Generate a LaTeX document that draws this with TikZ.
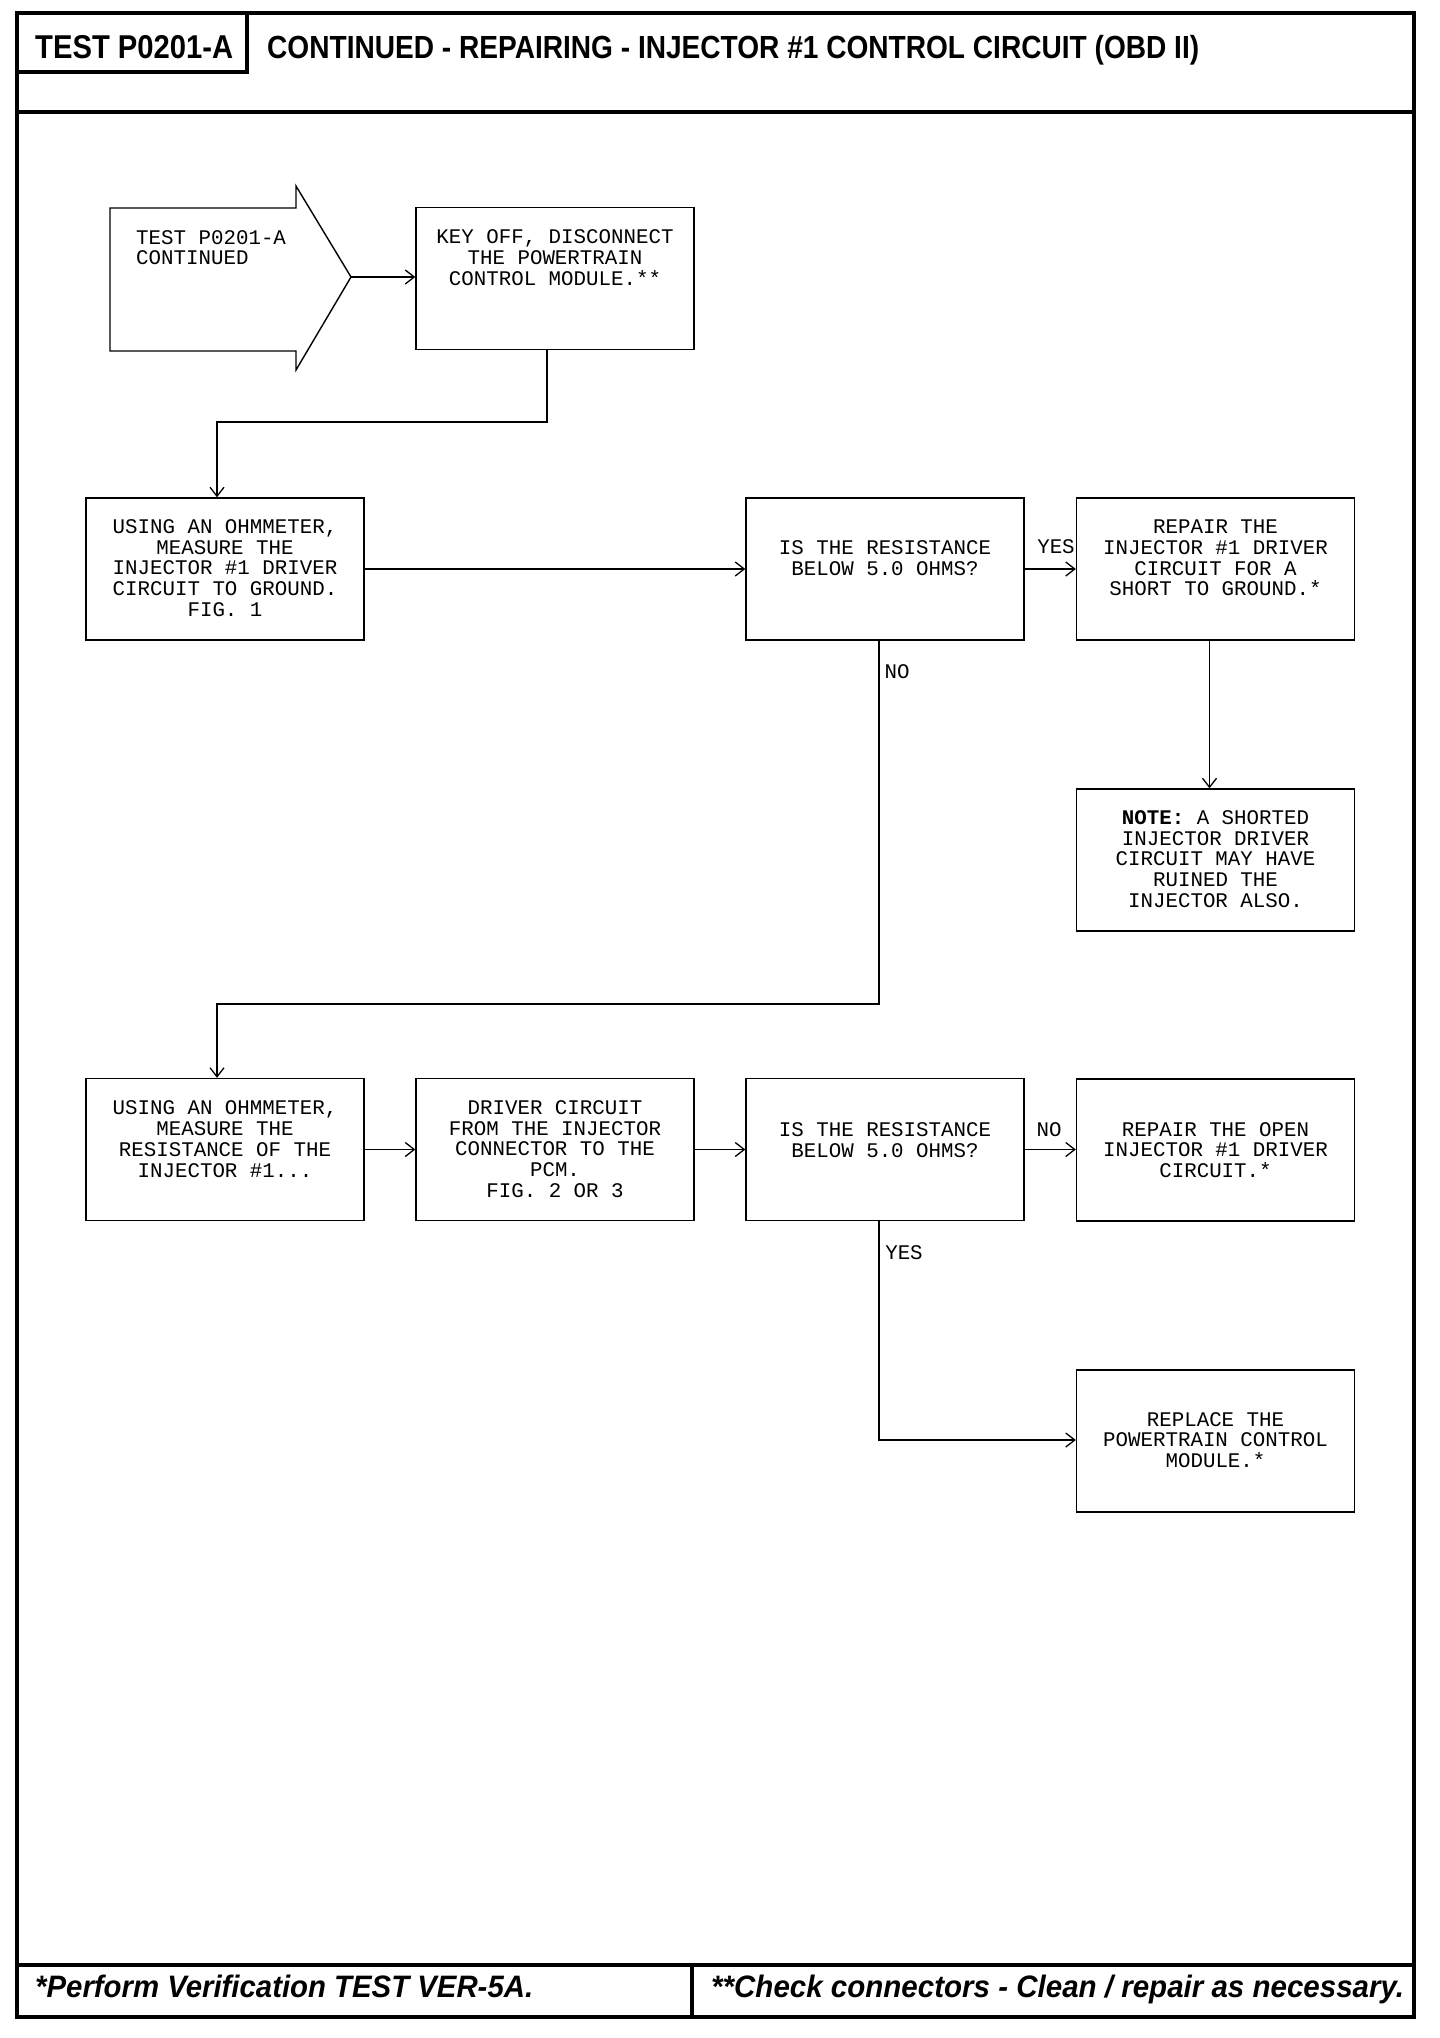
\documentclass[tikz,border=0pt]{standalone}
\usepackage{fontspec}
\usepackage{graphicx}
\setmainfont{Liberation Serif}
\newfontfamily\monofnt{Liberation Mono}
\newfontfamily\headfnt{Liberation Sans}
\usetikzlibrary{arrows.meta,calc}
\tikzset{
  frameline/.style={line width=3.2pt, line cap=rect},
  boxnode/.style={draw, line width=1.4pt, minimum width=278pt, minimum height=142pt, inner sep=0pt},
  txt/.style={font=\monofnt\fontsize{20.8}{20.8}\selectfont, align=center, inner sep=0pt},
  lbl/.style={font=\monofnt\fontsize{20.8}{20.8}\selectfont, inner sep=0pt},
  conn/.style={line width=1.4pt},
  arr/.style={line width=1.4pt, -{Straight Barb[length=9pt,width=14pt,line width=1.3pt]}},
  startarrow/.style={draw, line width=1.4pt, line join=miter}
}
\begin{document}
\begin{tikzpicture}[x=1pt,y=-1pt]
\useasboundingbox (0,0) rectangle (1440,2038);
\fill[white] (0,0) rectangle (1440,2038);
% frame
\draw[frameline] (17,13) rectangle (1414,2017);
\draw[frameline] (17,112) -- (1414,112);
\draw[frameline] (247,13) -- (247,72) -- (17,72);
\draw[frameline] (17,1965) -- (1414,1965);
\draw[frameline] (692,1965) -- (692,2017);
% title texts
\node[anchor=base west, inner sep=0pt] (ttest) at (35,58)
  {\resizebox{198pt}{\height}{\headfnt\fontsize{33}{33}\selectfont\bfseries TEST P0201-A}};
\node[anchor=base west, inner sep=0pt] (ttitle) at (267,58)
  {\resizebox{932pt}{\height}{\headfnt\fontsize{32}{32}\selectfont\bfseries CONTINUED - REPAIRING - INJECTOR \#1 CONTROL CIRCUIT (OBD II)}};
% footer texts
\node[anchor=base west, inner sep=0pt] (fnote1) at (35,1997)
  {\resizebox{498pt}{\height}{\headfnt\fontsize{31}{31}\selectfont\bfseries\itshape *Perform Verification TEST VER-5A.}};
\node[anchor=base west, inner sep=0pt] (fnote2) at (711,1997)
  {\resizebox{693pt}{\height}{\headfnt\fontsize{31}{31}\selectfont\bfseries\itshape **Check connectors - Clean / repair as necessary.}};
% start arrow shape
\draw[startarrow] (110,208) -- (296,208) -- (296,186) -- (351,277) -- (296,370) -- (296,351) -- (110,351) -- cycle;
\coordinate (tip) at (351,277);
\node[txt, align=left, anchor=north west] (st) at (136,230) {TEST P0201-A\\CONTINUED};
% boxes
\node[boxnode] (b1) at (555,278.5) {};
\node[boxnode] (b2) at (225,569) {};
\node[boxnode] (b3) at (885,569) {};
\node[boxnode] (b4) at (1215.5,569) {};
\node[boxnode] (b5) at (1215.5,860) {};
\node[boxnode] (b6) at (225,1149.5) {};
\node[boxnode] (b7) at (555,1149.5) {};
\node[boxnode] (b8) at (885,1149.5) {};
\node[boxnode] (b9) at (1215.5,1150) {};
\node[boxnode] (b10) at (1215.5,1441) {};
% box texts
\node[txt] (t1) at (555,257.5) {KEY OFF, DISCONNECT\\THE POWERTRAIN\\CONTROL MODULE.**};
\node[txt] (t2) at (225,568) {USING AN OHMMETER,\\MEASURE THE\\INJECTOR \#1 DRIVER\\CIRCUIT TO GROUND.\\FIG. 1};
\node[txt] (t3) at (885,558) {IS THE RESISTANCE\\BELOW 5.0 OHMS?};
\node[txt] (t4) at (1215.5,558) {REPAIR THE\\INJECTOR \#1 DRIVER\\CIRCUIT FOR A\\SHORT TO GROUND.*};
\node[txt] (t5) at (1215.5,859) {\textbf{NOTE:} A SHORTED\\INJECTOR DRIVER\\CIRCUIT MAY HAVE\\RUINED THE\\INJECTOR ALSO.};
\node[txt] (t6) at (225,1139) {USING AN OHMMETER,\\MEASURE THE\\RESISTANCE OF THE\\INJECTOR \#1...};
\node[txt] (t7) at (555,1149) {DRIVER CIRCUIT\\FROM THE INJECTOR\\CONNECTOR TO THE\\PCM.\\FIG. 2 OR 3};
\node[txt] (t8) at (885,1140) {IS THE RESISTANCE\\BELOW 5.0 OHMS?};
\node[txt] (t9) at (1215.5,1150) {REPAIR THE OPEN\\INJECTOR \#1 DRIVER\\CIRCUIT.*};
\node[txt] (t10) at (1215.5,1440) {REPLACE THE\\POWERTRAIN CONTROL\\MODULE.*};
% junction coordinates
\coordinate (j1) at (547,422);
\coordinate (j2) at (879,1004);
\coordinate (j3) at (879,1440);
% connectors
\draw[arr] (tip) -- (tip -| b1.west);
\draw[arr] ([xshift=-8pt]b1.south) -- (j1) -| ([xshift=-8pt]b2.north);
\draw[arr] (b2.east) -- (b3.west);
\draw[arr] (b3.east) -- (b4.west);
\draw[arr] ([xshift=-6pt]b4.south) -- ([xshift=-6pt]b5.north);
\draw[arr] ([xshift=-6pt]b3.south) -- (j2) -| ([xshift=-8pt]b6.north);
\draw[arr] (b6.east) -- (b7.west);
\draw[arr] (b7.east) -- (b8.west);
\draw[arr] (b8.east) -- (b8.east -| b9.west);
\draw[arr] ([xshift=-6pt]b8.south) -- (j3) -- (j3 -| b10.west);
% labels
\node[lbl] (lyes1) at (1056,547) {YES};
\node[lbl] (lno1) at (897,672) {NO};
\node[lbl] (lno2) at (1049,1130) {NO};
\node[lbl] (lyes2) at (904,1253) {YES};
\end{tikzpicture}
\end{document}
